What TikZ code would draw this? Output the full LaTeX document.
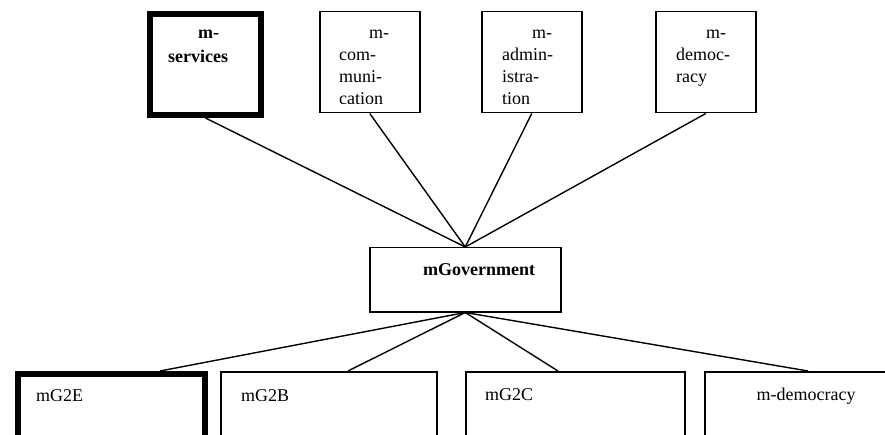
\documentclass[tikz,border=0pt]{standalone}
\usepackage{fontspec}
\setmainfont{Liberation Serif}
\usetikzlibrary{positioning, calc}

\begin{document}
\begin{tikzpicture}[x=1pt, y=-1pt,
    box/.style={draw, line width=1.5pt, minimum width=100pt, minimum height=101pt, inner sep=0pt, anchor=north west},
    heavy/.style={line width=6pt},
    words/.style={anchor=base west, inner sep=0pt, font=\fontsize{18}{21.7}\selectfont},
    link/.style={line width=1.4pt}]
  \clip (0,0) rectangle (885,435);
  % top row
  \node[box, heavy, minimum width=111pt] (serv) at (147,11) {};
  \node[box] (comm) at (319,11) {};
  \node[box] (admin) at (481,11) {};
  \node[box] (demo) at (655,11) {};
  \node[words, font=\fontsize{18}{24}\selectfont\bfseries] (servtxt) at ($(serv.north west)+(21,28)$)
    {\parbox[t]{90pt}{\hspace*{30pt}m-\\services}};
  \begin{scope}
    \clip (comm.north west) rectangle ([yshift=10pt]comm.south east);
    \node[words] (commtxt) at ($(comm.north west)+(20,28)$)
      {\parbox[t]{80pt}{\hspace*{30pt}m-\\com-\\muni-\\cation}};
  \end{scope}
  \begin{scope}
    \clip (admin.north west) rectangle ([yshift=10pt]admin.south east);
    \node[words] (admintxt) at ($(admin.north west)+(21,28)$)
      {\parbox[t]{80pt}{\hspace*{30pt}m-\\admin-\\istra-\\tion}};
  \end{scope}
  \node[words] (demotxt) at ($(demo.north west)+(21,28)$)
    {\parbox[t]{80pt}{\hspace*{30pt}m-\\democ-\\racy}};
  % centre
  \node[box, minimum width=191pt, minimum height=64pt] (gov) at (369,247) {};
  \node[words, font=\fontsize{18}{21.7}\selectfont\bfseries] (govtxt) at ($(gov.north west)+(54,29)$) {mGovernment};
  % bottom row
  \node[box, heavy, minimum width=187.5pt] (ge) at (14.5,371) {};
  \node[box, minimum width=216pt] (gb) at (220,371) {};
  \node[box, minimum width=219pt] (gc) at (465,371) {};
  \node[box, minimum width=216pt] (gdem) at (704,371) {};
  \node[words] (getxt) at ($(ge.north west)+(21.5,30)$) {mG2E};
  \node[words] (gbtxt) at ($(gb.north west)+(21,30)$) {mG2B};
  \node[words] (gctxt) at ($(gc.north west)+(20,29)$) {mG2C};
  \node[words, anchor=base] (gdemtxt) at ($(gdem.north west)+(102,29)$) {m-democracy};
  % connectors
  \foreach \top in {serv, comm, admin, demo}
    \draw[link] (\top.south) -- (gov.north);
  \draw[link] (gov.south) -- ([xshift=145.5pt]ge.north west);
  \draw[link] (gov.south) -- ([xshift=128pt]gb.north west);
  \draw[link] (gov.south) -- ([xshift=93pt]gc.north west);
  \draw[link] (gov.south) -- ([xshift=104pt]gdem.north west);
\end{tikzpicture}
\end{document}
